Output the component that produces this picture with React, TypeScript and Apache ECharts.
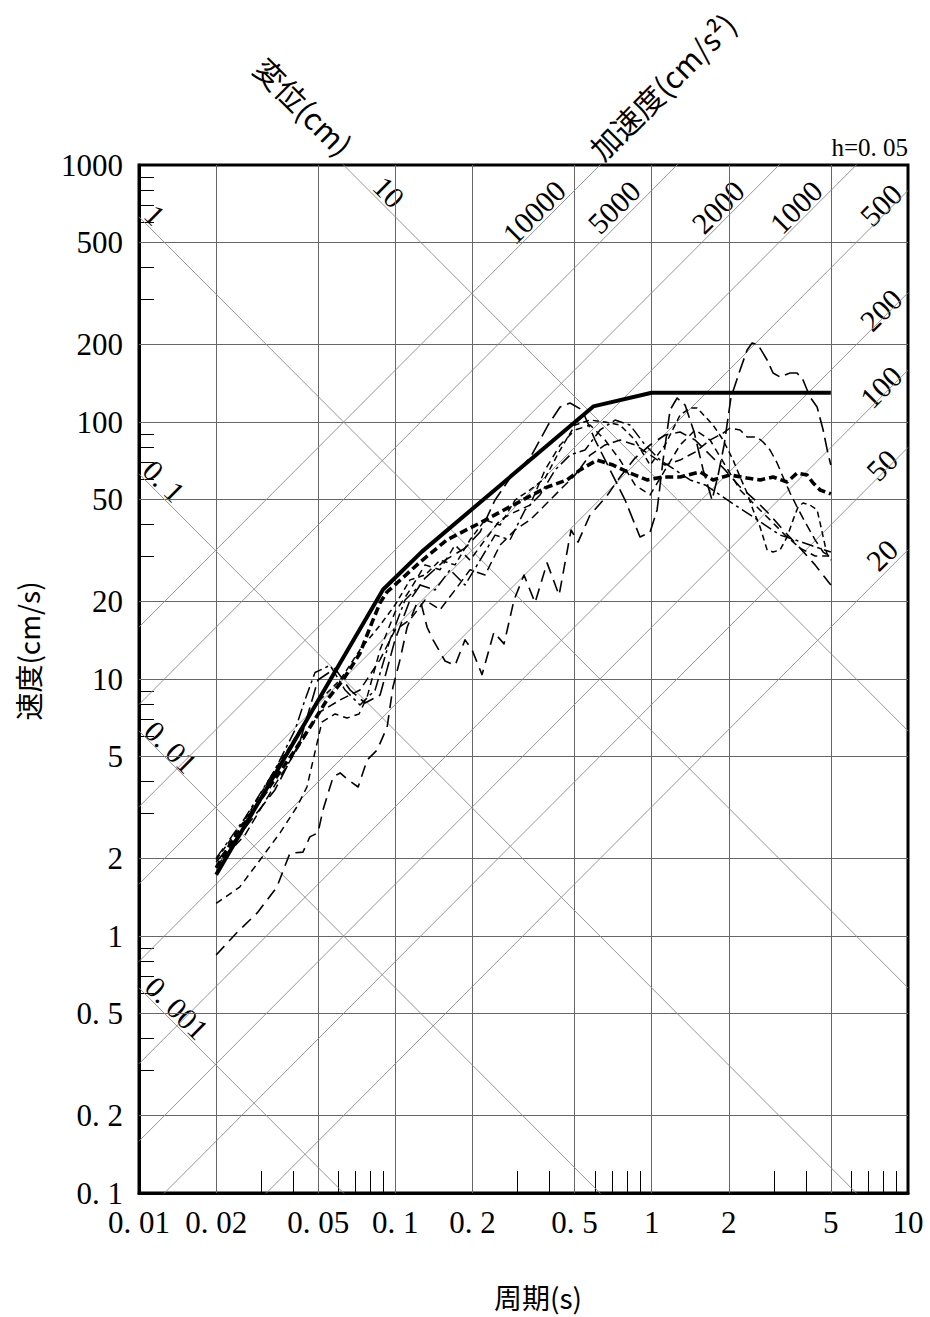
import React, { useEffect, useRef } from 'react';
import * as echarts from 'echarts';

// Axis ticks / labels
const X_LABELS = [0.01, 0.02, 0.05, 0.1, 0.2, 0.5, 1, 2, 5, 10];
const Y_LABELS = [0.1, 0.2, 0.5, 1, 2, 5, 10, 20, 50, 100, 200, 500, 1000];
const X_GRID = [0.02, 0.05, 0.1, 0.2, 0.5, 1, 2, 5];
const Y_GRID = [0.2, 0.5, 1, 2, 5, 10, 20, 50, 100, 200, 500];
const X_MINOR = [0.03, 0.04, 0.06, 0.07, 0.08, 0.09, 0.3, 0.4, 0.6, 0.7, 0.8, 0.9, 3, 4, 6, 7, 8, 9];
const Y_MINOR = [0.3, 0.4, 0.6, 0.7, 0.8, 0.9, 3, 4, 6, 7, 8, 9, 30, 40, 60, 70, 80, 90, 300, 400, 600, 700, 800, 900];

// Tripartite reference lines
const DISP_CM = [0.001, 0.01, 0.1, 1, 10];
const ACC_CMS2 = [20, 50, 100, 200, 500, 1000, 2000, 5000, 10000];

// Spectra [period (s), velocity (cm/s)]
const DESIGN = [[0.02, 1.73], [0.0896, 22.3], [0.127, 31.3], [0.592, 115], [1.0, 130], [5.0, 130]];

const MEAN = [[0.02, 1.84], [0.0226, 2.26], [0.0297, 3.38], [0.0399, 5.15], [0.0465, 6.5], [0.0541, 8.29], [0.0625, 9.91], [0.0728, 12.6], [0.0797, 15.9], [0.0872, 19.8], [0.0928, 21.8], [0.1249, 28.5], [0.1591, 34.8], [0.2141, 40.5], [0.2879, 47.5], [0.3908, 55.8], [0.4677, 59.5], [0.5257, 65.1], [0.6124, 71.1], [0.7069, 68.0], [0.8235, 63.3], [0.9594, 59.5], [1.108, 61.1], [1.291, 61.1], [1.545, 63.9], [1.616, 62.2], [1.736, 59.5], [2.022, 62.2], [2.356, 60.5], [2.648, 59.5], [2.977, 61.1], [3.376, 58.4], [3.693, 63.3], [4.04, 62.2], [4.264, 57.9], [4.54, 54.4], [5.0, 52.5]];

const WAVE_1 = [[0.02, 1.94], [0.0259, 2.63], [0.0339, 3.7], [0.0424, 5.69], [0.0499, 9.91], [0.0582, 11.0], [0.0666, 9.06], [0.0762, 8.07], [0.0872, 8.66], [0.0997, 14.2], [0.1141, 20.3], [0.1306, 24.7], [0.1563, 29.0], [0.187, 32.3], [0.2141, 37.3], [0.2449, 49.7], [0.2802, 60.5], [0.3354, 72.4], [0.3943, 97.3], [0.4392, 114.4], [0.4804, 118.5], [0.5352, 111.4], [0.6015, 85.1], [0.6883, 65.1], [0.7876, 49.7], [0.9006, 35.7], [0.986, 37.3], [1.05, 45.5], [1.108, 71.1], [1.18, 111.4], [1.257, 124], [1.35, 116.4], [1.464, 91.4], [1.588, 65.1], [1.72, 49.7], [1.817, 62.2], [1.917, 81.4], [2.04, 125], [2.213, 159.4], [2.357, 190.7], [2.465, 203], [2.601, 199.4], [2.821, 174.3], [2.976, 155.1], [3.169, 149.6], [3.468, 155.1], [3.692, 155.1], [3.896, 145.7], [4.149, 125], [4.419, 114.4], [4.666, 93.1], [4.868, 75.7], [5.0, 68.0]];

const WAVE_2 = [[0.02, 0.844], [0.02407, 1.03], [0.02892, 1.23], [0.0345, 1.55], [0.0388, 2.1], [0.0436, 2.12], [0.0464, 2.43], [0.0499, 2.52], [0.0522, 3.09], [0.0572, 4.16], [0.0609, 4.31], [0.0654, 4.05], [0.0716, 3.8], [0.0776, 4.84], [0.0849, 5.29], [0.0929, 6.5], [0.0979, 9.31], [0.1043, 11.9], [0.1112, 15.9], [0.1215, 19.8], [0.1259, 19.8], [0.133, 15.9], [0.1403, 14.2], [0.1563, 11.75], [0.171, 11.3], [0.187, 14.2], [0.1991, 13.0], [0.2179, 10.4], [0.2424, 15.2], [0.2655, 13.7], [0.2905, 20.3], [0.3176, 25.4], [0.3508, 19.8], [0.3908, 28.3], [0.4353, 21.2], [0.4848, 38.0], [0.5162, 34.1], [0.575, 43.5], [0.664, 51.1], [0.753, 61.1], [0.861, 72.4], [0.986, 81.4], [1.128, 89.0], [1.291, 91.4], [1.477, 85.1], [1.69, 74.4], [1.934, 65.1], [2.213, 55.9], [2.532, 49.7], [2.897, 43.5], [3.315, 37.3], [3.793, 32.3], [4.34, 27.8], [5.0, 23.2]];

const WAVE_3 = [[0.02, 1.98], [0.0259, 2.83], [0.0339, 4.43], [0.0424, 6.33], [0.0508, 8.29], [0.0609, 9.91], [0.0728, 13.0], [0.0872, 16.2], [0.0997, 19.4], [0.1141, 24.3], [0.1306, 25.4], [0.1494, 29.0], [0.171, 27.8], [0.1956, 34.8], [0.2239, 41.6], [0.2562, 39.7], [0.2931, 49.7], [0.3354, 54.4], [0.3838, 60.5], [0.4392, 77.8], [0.5025, 97.3], [0.575, 101.8], [0.658, 100], [0.753, 97.3], [0.861, 85.1], [0.986, 68.0], [1.128, 81.4], [1.291, 106.5], [1.412, 113.4], [1.504, 113.4], [1.736, 97.3], [1.9, 85.1], [2.079, 71.1], [2.213, 61.1], [2.357, 52.9], [2.487, 45.5], [2.648, 39.0], [2.821, 31.8], [2.976, 31.2], [3.169, 31.8], [3.375, 35.7], [3.562, 41.6], [3.725, 46.7], [3.896, 48.4], [4.149, 47.5], [4.419, 45.5], [4.54, 40.5], [4.82, 30.9], [5.0, 29.0]];

const WAVE_4 = [[0.02, 1.87], [0.0259, 2.47], [0.0339, 3.87], [0.0424, 5.53], [0.0508, 7.44], [0.0609, 8.29], [0.0728, 9.06], [0.0872, 11.9], [0.0997, 15.5], [0.1141, 17.0], [0.1306, 20.3], [0.1494, 18.6], [0.171, 22.2], [0.1956, 26.6], [0.2239, 25.4], [0.2562, 33.2], [0.2931, 38.0], [0.3354, 41.6], [0.3838, 47.5], [0.4392, 54.4], [0.5025, 62.2], [0.575, 74.4], [0.658, 81.4], [0.753, 85.1], [0.861, 81.4], [0.986, 74.4], [1.128, 68.0], [1.291, 71.1], [1.477, 76.4], [1.69, 85.1], [1.9, 90.6], [2.023, 94.8], [2.213, 93.1], [2.357, 87.4], [2.578, 87.4], [2.721, 83.6], [2.897, 77.8], [3.085, 69.3], [3.255, 61.1], [3.468, 52.9], [3.692, 46.7], [3.967, 40.8], [4.34, 34.8], [4.666, 31.2], [5.0, 29.8]];

const WAVE_5 = [[0.02, 1.34], [0.0247, 1.55], [0.0297, 1.98], [0.0355, 2.52], [0.0413, 3.18], [0.0452, 3.8], [0.0517, 6.8], [0.0582, 7.31], [0.0648, 7.05], [0.0722, 7.31], [0.0776, 8.51], [0.0872, 13.0], [0.0997, 18.2], [0.1141, 22.2], [0.1306, 27.8], [0.1494, 26.6], [0.171, 33.2], [0.1956, 29.0], [0.2239, 34.8], [0.2562, 41.6], [0.2931, 44.7], [0.3354, 47.5], [0.3838, 65.1], [0.4392, 81.4], [0.5025, 93.1], [0.575, 97.3], [0.658, 85.1], [0.753, 71.1], [0.861, 56.9], [0.986, 52.0], [1.128, 65.1], [1.291, 81.4], [1.477, 93.1], [1.69, 85.1], [1.934, 68.0], [2.213, 54.4], [2.532, 47.5], [2.897, 41.6], [3.315, 36.3], [3.793, 32.3], [4.34, 30.1], [5.0, 30.1]];

const WAVE_6 = [[0.02, 2.01], [0.0259, 2.88], [0.0339, 4.43], [0.0406, 6.33], [0.0444, 8.29], [0.0486, 10.6], [0.0556, 11.3], [0.0637, 9.06], [0.0728, 7.92], [0.0834, 9.06], [0.0953, 14.2], [0.1091, 20.3], [0.1249, 23.2], [0.1428, 22.2], [0.1635, 26.6], [0.187, 23.2], [0.2141, 29.0], [0.2449, 36.3], [0.2802, 34.8], [0.3207, 45.5], [0.3669, 52.0], [0.4199, 65.1], [0.4804, 74.4], [0.5497, 77.8], [0.629, 93.1], [0.72, 101.8], [0.823, 97.3], [0.943, 81.4], [1.078, 71.1], [1.234, 65.1], [1.412, 59.5], [1.616, 56.9], [1.849, 52.0], [2.116, 47.5], [2.421, 43.5], [2.77, 39.7], [3.169, 36.3], [3.626, 34.8], [4.149, 33.2], [5.0, 31.2]];

const T_MIN = 0.01;
const T_MAX = 10;
const V_MIN = 0.1;
const V_MAX = 1000;

const NUM_FONT = '"Liberation Serif", "DejaVu Serif", serif';
const JP_FONT = '"Noto Sans CJK JP", "Noto Sans", sans-serif';

function fmt(v: number): string {
  const n = Number(Number(v).toPrecision(3));
  return String(n).replace('.', '. ');
}

export default function App() {
  const ref = useRef<HTMLDivElement>(null);

  useEffect(() => {
    if (!ref.current) return;
    const chart = echarts.init(ref.current, null, { renderer: 'svg' });

    const gridLines: any[] = [];
    X_GRID.forEach((t) => gridLines.push({ coords: [[t, V_MIN], [t, V_MAX]] }));
    Y_GRID.forEach((v) => gridLines.push({ coords: [[T_MIN, v], [T_MAX, v]] }));

    const diagLines: any[] = [];
    const TWO_PI = 2 * Math.PI;
    DISP_CM.forEach((d) =>
      diagLines.push({ coords: [[T_MIN, (TWO_PI * d) / T_MIN], [T_MAX, (TWO_PI * d) / T_MAX]] })
    );
    ACC_CMS2.forEach((a) =>
      diagLines.push({ coords: [[T_MIN, (a * T_MIN) / TWO_PI], [T_MAX, (a * T_MAX) / TWO_PI]] })
    );

    const curve = (name: string, data: number[][], width: number, type: any) => ({
      name,
      type: 'line',
      data,
      symbol: 'none',
      showSymbol: false,
      silent: true,
      clip: true,
      z: 5,
      lineStyle: { color: '#000', width, type, cap: 'butt', join: 'round' },
    });

    const diagText = (text: string, x: number, y: number, rot: number) => ({
      type: 'text',
      x,
      y,
      rotation: rot,
      silent: true,
      style: {
        text,
        font: `30px ${NUM_FONT}`,
        fill: '#000',
        textAlign: 'center',
        textVerticalAlign: 'middle',
        align: 'center',
        verticalAlign: 'middle',
      },
    });
    const DOWN = -Math.PI / 4;
    const UP = Math.PI / 4;

    chart.setOption({
      animation: false,
      backgroundColor: '#fff',
      grid: {
        left: 139,
        right: 22,
        top: 165,
        bottom: 124,
        show: true,
        borderColor: '#000',
        borderWidth: 3,
        backgroundColor: 'transparent',
        containLabel: false,
      },
      xAxis: {
        type: 'log',
        logBase: 10,
        min: T_MIN,
        max: T_MAX,
        axisLine: { show: true, onZero: false, lineStyle: { color: '#000', width: 3 } },
        axisTick: {
          show: true,
          inside: true,
          length: 22,
          customValues: X_MINOR,
          lineStyle: { color: '#000', width: 1 },
        },
        axisLabel: {
          show: true,
          customValues: X_LABELS,
          formatter: (v: number) => fmt(v),
          color: '#000',
          fontFamily: NUM_FONT,
          fontSize: 31,
          margin: 14,
          showMinLabel: true,
          showMaxLabel: true,
        },
        splitLine: { show: false },
        minorTick: { show: false },
        minorSplitLine: { show: false },
      },
      yAxis: {
        type: 'log',
        logBase: 10,
        min: V_MIN,
        max: V_MAX,
        axisLine: { show: true, onZero: false, lineStyle: { color: '#000', width: 3 } },
        axisTick: {
          show: true,
          inside: true,
          length: 15,
          customValues: Y_MINOR,
          lineStyle: { color: '#000', width: 1 },
        },
        axisLabel: {
          show: true,
          customValues: Y_LABELS,
          formatter: (v: number) => fmt(v),
          color: '#000',
          fontFamily: NUM_FONT,
          fontSize: 31,
          margin: 16,
          showMinLabel: true,
          showMaxLabel: true,
        },
        splitLine: { show: false },
        minorTick: { show: false },
        minorSplitLine: { show: false },
      },
      series: [
        {
          name: 'grid',
          type: 'lines',
          coordinateSystem: 'cartesian2d',
          silent: true,
          clip: true,
          z: 1,
          lineStyle: { color: '#666', width: 1, opacity: 1, curveness: 0 },
          data: gridLines,
        },
        {
          name: 'tripartite',
          type: 'lines',
          coordinateSystem: 'cartesian2d',
          silent: true,
          clip: true,
          z: 1,
          lineStyle: { color: '#8a8a8a', width: 0.9, opacity: 1, curveness: 0 },
          data: diagLines,
        },
        curve('wave1', WAVE_1, 1.6, [15, 6]),
        curve('wave2', WAVE_2, 1.6, [12, 7]),
        curve('wave3', WAVE_3, 1.5, [6, 4]),
        curve('wave4', WAVE_4, 1.5, [9, 5]),
        curve('wave5', WAVE_5, 1.5, [7, 5]),
        curve('wave6', WAVE_6, 1.5, [12, 4, 3, 4]),
        curve('mean', MEAN, 3.6, [8, 4]),
        curve('design', DESIGN, 4, 'solid'),
      ],
      graphic: [
        {
          type: 'text',
          x: 28,
          y: 651,
          rotation: Math.PI / 2,
          silent: true,
          style: {
            text: '速度(cm/s)',
            font: `28px ${JP_FONT}`,
            fill: '#000',
            textAlign: 'center',
            textVerticalAlign: 'middle',
            align: 'center',
            verticalAlign: 'middle',
          },
        },
        {
          type: 'text',
          x: 538,
          y: 1297,
          silent: true,
          style: {
            text: '周期(s)',
            font: `28px ${JP_FONT}`,
            fill: '#000',
            textAlign: 'center',
            textVerticalAlign: 'middle',
            align: 'center',
            verticalAlign: 'middle',
          },
        },
        {
          type: 'text',
          x: 304,
          y: 106,
          rotation: DOWN,
          silent: true,
          style: {
            text: '変位(cm)',
            font: `30px ${JP_FONT}`,
            fill: '#000',
            textAlign: 'center',
            textVerticalAlign: 'middle',
            align: 'center',
            verticalAlign: 'middle',
          },
        },
        {
          type: 'text',
          x: 662,
          y: 86,
          rotation: UP,
          silent: true,
          style: {
            text: '加速度(cm/s²)',
            font: `30px ${JP_FONT}`,
            fill: '#000',
            textAlign: 'center',
            textVerticalAlign: 'middle',
            align: 'center',
            verticalAlign: 'middle',
          },
        },
        {
          type: 'text',
          x: 908,
          y: 147,
          silent: true,
          style: {
            text: 'h=0. 05',
            font: `25px ${NUM_FONT}`,
            fill: '#000',
            textAlign: 'right',
            textVerticalAlign: 'middle',
            align: 'right',
            verticalAlign: 'middle',
          },
        },
        diagText('1', 155, 215, DOWN),
        diagText('10', 389, 192, DOWN),
        diagText('0. 1', 164, 481, DOWN),
        diagText('0. 01', 171, 747, DOWN),
        diagText('0. 001', 177, 1008, DOWN),
        diagText('10000', 534, 212, UP),
        diagText('5000', 614, 207, UP),
        diagText('2000', 718, 207, UP),
        diagText('1000', 796, 207, UP),
        diagText('500', 881, 205, UP),
        diagText('200', 881, 310, UP),
        diagText('100', 881, 387, UP),
        diagText('50', 882, 465, UP),
        diagText('20', 882, 555, UP),
      ],
    });

    return () => chart.dispose();
  }, []);

  return (
    <div
      ref={ref}
      style={{ position: 'absolute', left: 0, top: 0, width: 930, height: 1317, background: '#fff' }}
    />
  );
}
